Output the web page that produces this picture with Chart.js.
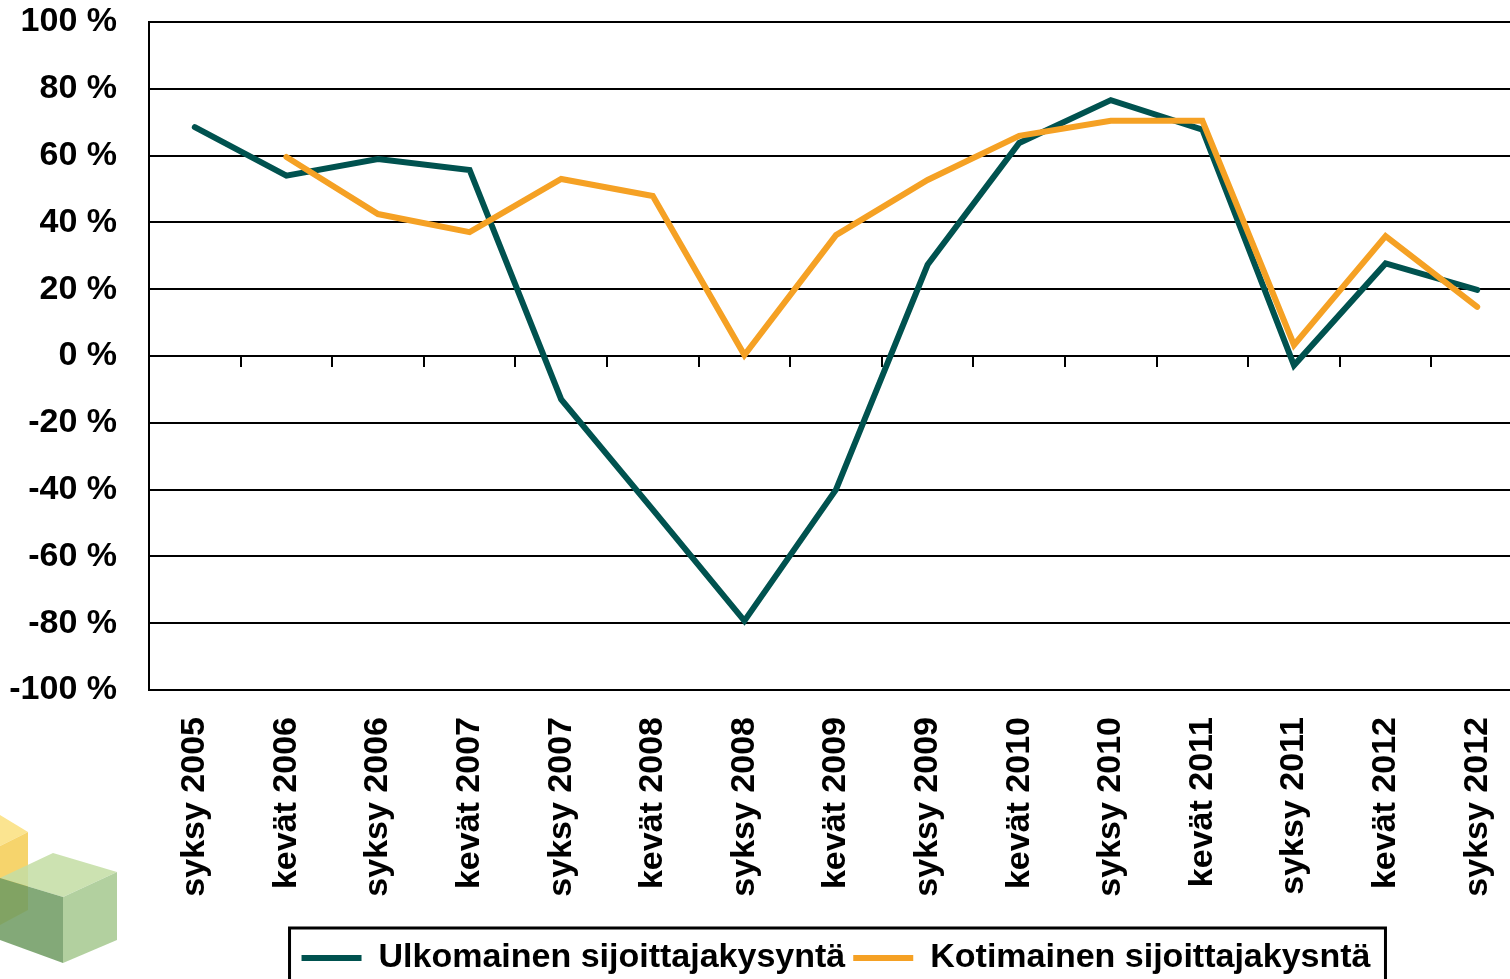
<!DOCTYPE html>
<html><head><meta charset="utf-8">
<script src="https://cdn.jsdelivr.net/npm/chart.js"></script>
<style>
html,body{margin:0;padding:0;background:#fff;overflow:hidden}
#wrap{position:relative;width:1510px;height:979px;overflow:hidden;background:#fff}
#cw{position:absolute;left:0;top:0;width:1530px;height:1000px}
#logo{position:absolute;left:0;top:800px}
</style></head><body>
<div id="wrap">
<svg id="logo" width="130" height="179" viewBox="0 800 130 179">
  <polygon points="0,815 28,832 0,846" fill="#fbe490"/>
  <polygon points="0,846 28,832 28,910 0,925" fill="#f6d46c"/>
  <g opacity="0.86">
    <polygon points="0,878 53,853 117,872 63,897" fill="#c4dea5"/>
    <polygon points="0,878 63,897 63,963 0,940" fill="#6f9c62"/>
    <polygon points="63,897 117,872 117,940 63,963" fill="#a6c990"/>
  </g>
</svg>
<div id="cw"><canvas id="c" width="1530" height="1000"></canvas></div>
</div>
<script>
const categories = ["syksy 2005","kevät 2006","syksy 2006","kevät 2007","syksy 2007","kevät 2008","syksy 2008","kevät 2009","syksy 2009","kevät 2010","syksy 2010","kevät 2011","syksy 2011","kevät 2012","syksy 2012"];
const ulkomainen = [68.5, 54, 59, 55.7, -13, -46, -79.3, -40, 27.3, 63.8, 76.6, 67.8, -2.8, 27.7, 19.8];
const kotimainen = [null, 59.6, 42.5, 37.1, 53, 47.9, 0.3, 36.2, 52.7, 65.9, 70.4, 70.4, 3.3, 35.9, 14.7];
const seriesNames = ["Ulkomainen sijoittajakysyntä", "Kotimainen sijoittajakysntä"];
const yMin = -100, yMax = 100, yStep = 20;

const FONT = '"Liberation Sans", Arial, sans-serif';

const legendBox = {
  id: 'legendBox',
  afterDraw(chart) {
    const hb = chart.legend && chart.legend.legendHitBoxes;
    if (!hb || !hb.length) return;
    const first = hb[0], last = hb[hb.length - 1];
    const ctx = chart.ctx;
    const l = first.left - 12, r = last.left + last.width + 15;
    const cy = first.top + first.height / 2;
    ctx.save();
    ctx.strokeStyle = '#000';
    ctx.lineWidth = 3;
    ctx.strokeRect(l, cy - 30, r - l, 64);
    ctx.restore();
  }
};

new Chart(document.getElementById('c'), {
  type: 'line',
  data: {
    labels: categories,
    datasets: [
      { label: seriesNames[0], data: ulkomainen, borderColor: '#00524f', backgroundColor: '#00524f',
        borderWidth: 6, pointRadius: 0, tension: 0, borderCapStyle: 'round', order: 2, xAxisID: 'x', yAxisID: 'y' },
      { label: seriesNames[1], data: kotimainen, borderColor: '#f5a124', backgroundColor: '#f5a124',
        borderWidth: 6, pointRadius: 0, tension: 0, borderCapStyle: 'round', order: 1, xAxisID: 'x', yAxisID: 'y' }
    ]
  },
  options: {
    responsive: false,
    animation: false,
    devicePixelRatio: 1,
    layout: { padding: { left: 0, right: 7, top: 22, bottom: 15 } },
    plugins: {
      tooltip: { enabled: false },
      legend: {
        position: 'bottom',
        fullSize: false,
        labels: {
          usePointStyle: true,
          pointStyle: 'line',
          pointStyleWidth: 60,
          padding: 8,
          color: '#000',
          font: { family: FONT, size: 34, weight: 'bold' },
          sort: (a, b) => a.datasetIndex - b.datasetIndex
        }
      }
    },
    scales: {
      x: {
        type: 'category',
        position: 'bottom',
        offset: true,
        grid: { display: false, drawTicks: true, tickLength: 27 },
        border: { display: false },
        ticks: { autoSkip: false, minRotation: 90, maxRotation: 90, padding: 0, color: '#000',
                 font: { family: FONT, size: 34, weight: 'bold' } },
        afterFit(scale) { scale.height = 243; }
      },
      x2: {
        type: 'category',
        labels: categories,
        position: { y: 0 },
        offset: true,
        grid: { offset: true, drawOnChartArea: false, drawTicks: true, tickLength: 11, color: '#000', lineWidth: 2 },
        border: { display: false },
        ticks: { display: false, padding: 0 }
      },
      y: {
        min: yMin, max: yMax,
        position: 'left',
        grid: { color: '#000', lineWidth: 2, drawTicks: true, tickLength: 32, tickColor: 'rgba(0,0,0,0)' },
        border: { display: true, color: '#000', width: 2 },
        ticks: { stepSize: yStep, padding: 0, color: '#000',
                 font: { family: FONT, size: 34, weight: 'bold' },
                 callback: v => v + ' %' },
        afterFit(scale) { scale.width = 149; }
      }
    }
  },
  plugins: [legendBox]
});
</script>
</body></html>
